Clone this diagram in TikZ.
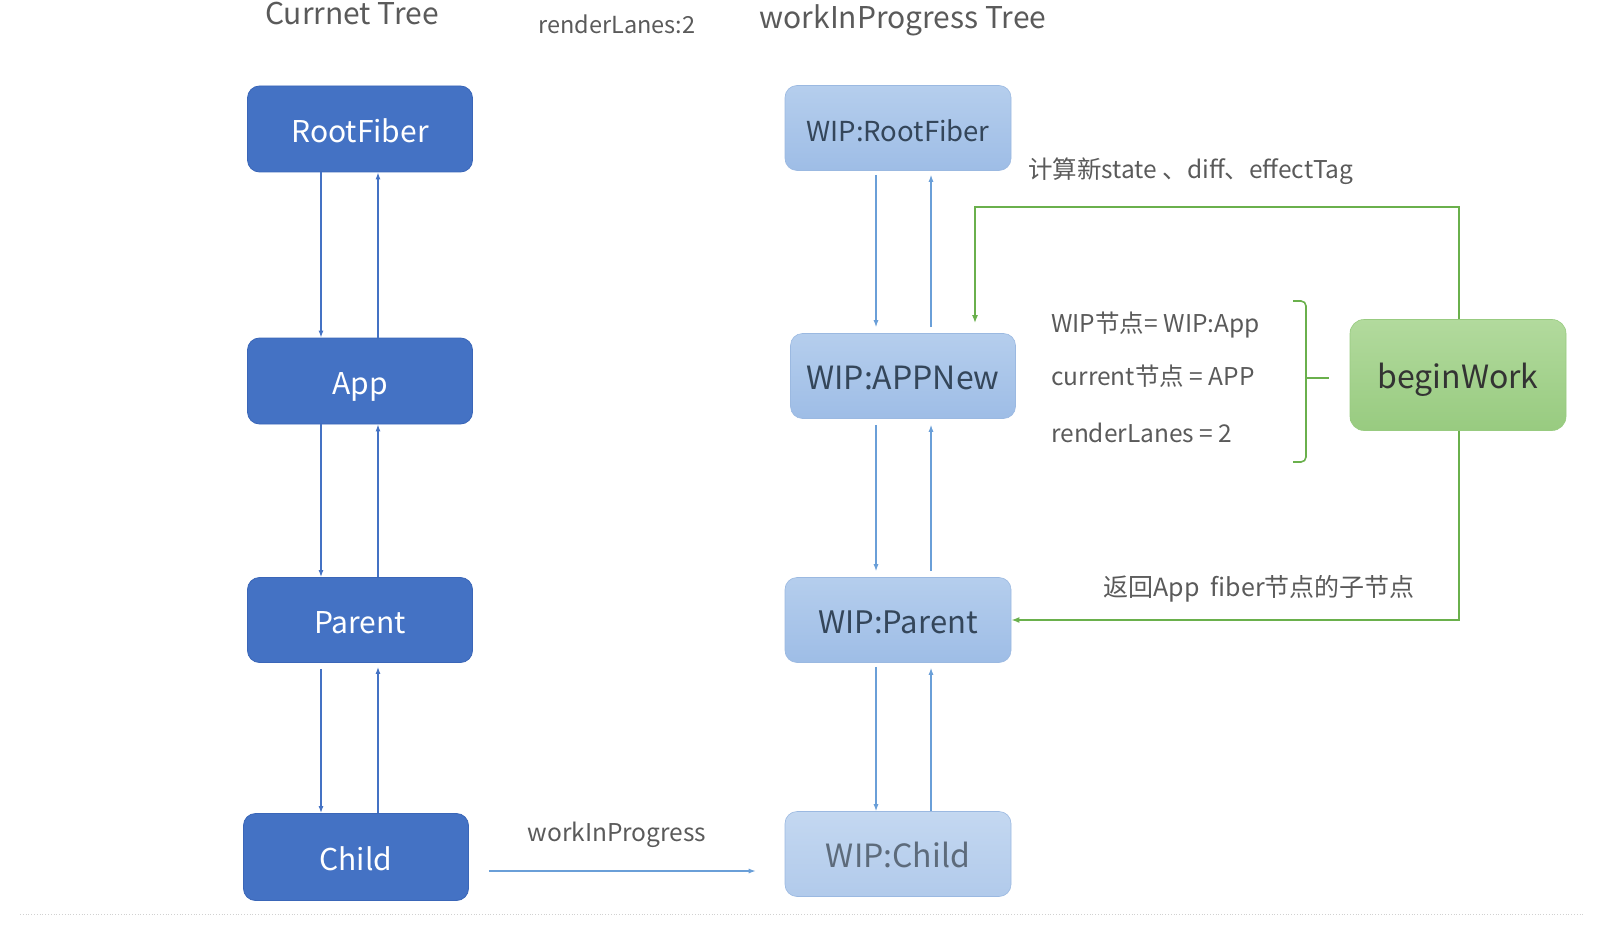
\documentclass[tikz,border=0pt]{standalone}
\usepackage{fontspec}
\setmainfont{Noto Sans CJK SC}
\usetikzlibrary{arrows.meta,calc}
\definecolor{darkb}{HTML}{4472C4}
\definecolor{darkbb}{HTML}{3A66B8}
\definecolor{lightt}{HTML}{B5CEED}
\definecolor{lightb}{HTML}{9EBDE6}
\definecolor{lineb}{HTML}{6A9FD8}
\definecolor{greent}{HTML}{B2DA9D}
\definecolor{greenb}{HTML}{98CB80}
\definecolor{greenl}{HTML}{6AB04C}
\definecolor{txtg}{HTML}{5A5A5A}
\definecolor{wiptxt}{HTML}{34465A}
\begin{document}
\begin{tikzpicture}[x=1pt,y=-1pt,
  boxtext/.style={text height=27pt,text depth=0pt},
  darkbox/.style={boxtext,draw=darkbb,line width=0.8pt,fill=darkb,rounded corners=12pt,inner sep=0pt,text=white,font=\fontsize{30}{34}\selectfont},
  wipbox/.style={boxtext,draw=lightb!90!black!20!lightb,line width=0.6pt,top color=lightt,bottom color=lightb,rounded corners=12pt,inner sep=0pt,text=wiptxt,font=\fontsize{30}{34}\selectfont},
  greenbox/.style={boxtext,draw=greenb,line width=0.6pt,top color=greent,bottom color=greenb,rounded corners=14pt,inner sep=0pt,text=black!80,font=\fontsize{32}{36}\selectfont},
  larr/.style={draw=darkb,line width=1.2pt,-{Latex[length=7pt,width=5pt]}},
  rarr/.style={draw=lineb,line width=1.2pt,-{Latex[length=7pt,width=5pt]}},
  garr/.style={draw=greenl,line width=1.6pt,-{Latex[length=8pt,width=6pt]}},
  lbl/.style={text=txtg,inner sep=0pt,font=\fontsize{24.5}{28}\selectfont},
  ttl/.style={text=txtg,inner sep=0pt,font=\fontsize{30}{34}\selectfont}]
\useasboundingbox (0,0) rectangle (1612,928);
% titles
\node[ttl] (t1) at (352,14) {Currnet Tree};
\node[lbl,font=\fontsize{23.5}{28}\selectfont] (t2) at (617,24) {renderLanes:2};
\node[ttl] (t3) at (903,20) {workInProgress Tree};
% current tree
\node[darkbox,minimum width=225pt,minimum height=86pt] (rf) at (360,129) {RootFiber};
\node[darkbox,minimum width=225pt,minimum height=86pt] (app) at (360,381) {App};
\node[darkbox,minimum width=225pt,minimum height=85pt] (par) at (360,620) {Parent};
\node[darkbox,minimum width=225pt,minimum height=87pt] (chi) at (356,857) {Child};
% wip tree
\node[wipbox,minimum width=226pt,minimum height=85pt,font=\fontsize{27.5}{32}\selectfont] (wrf) at (898,128) {WIP:RootFiber};
\node[wipbox,minimum width=225pt,minimum height=85pt,font=\fontsize{32}{36}\selectfont] (wapp) at (903,376) {WIP:APPNew};
\node[wipbox,minimum width=226pt,minimum height=85pt,font=\fontsize{31}{36}\selectfont] (wpar) at (898,620) {WIP:Parent};
\node[wipbox,minimum width=226pt,minimum height=85pt,font=\fontsize{32}{36}\selectfont,top color=lightt!80!white,bottom color=lightb!80!white,text=wiptxt!80!white] (wchi) at (898,854) {WIP:Child};
\node[greenbox,minimum width=216pt,minimum height=111pt] (bw) at (1458,375) {beginWork};
% x positions
\coordinate (xl1) at (321,0);
\coordinate (xl2) at (378,0);
\coordinate (xr1) at (876,0);
\coordinate (xr2) at (931,0);
% left arrows
\draw[larr] (rf.south -| xl1) -- (app.north -| xl1);
\draw[larr] (app.north -| xl2) -- (rf.south -| xl2);
\draw[larr] (app.south -| xl1) -- (par.north -| xl1);
\draw[larr] (par.north -| xl2) -- (app.south -| xl2);
\draw[larr,shorten <=6pt] (par.south -| xl1) -- (chi.north -| xl1);
\draw[larr,shorten >=4pt] (chi.north -| xl2) -- (par.south -| xl2);
% right arrows
\draw[rarr,shorten <=4pt,shorten >=6pt] (wrf.south -| xr1) -- (wapp.north -| xr1);
\draw[rarr,shorten <=6pt,shorten >=4pt] (wapp.north -| xr2) -- (wrf.south -| xr2);
\draw[rarr,shorten <=6pt,shorten >=6pt] (wapp.south -| xr1) -- (wpar.north -| xr1);
\draw[rarr,shorten <=6pt,shorten >=6pt] (wpar.north -| xr2) -- (wapp.south -| xr2);
\draw[rarr,shorten <=4pt] (wpar.south -| xr1) -- (wchi.north -| xr1);
\draw[rarr,shorten >=5pt] (wchi.north -| xr2) -- (wpar.south -| xr2);
% workInProgress arrow
\coordinate (wa) at ($(chi.east)+(20,14)$);
\coordinate (wb) at ($(wchi.west)+(-29,0)$);
\draw[rarr] (wa) -- (wa -| wb);
\node[lbl] (wl) at (617,835) {workInProgress};
% green connectors
\coordinate (g1) at (1459,207);
\coordinate (g2) at (975,207);
\draw[garr,shorten >=10pt] (bw.north -| g1) -- (g1) -- (g2) -- (g2 |- wapp.north);
\coordinate (g3) at (1459,620);
\draw[garr] (bw.south -| g3) -- (g3) -- (wpar.east);
% labels
\node[lbl,anchor=west] (calc) at (1028,171) {计算新state 、diff、effectTag};
\node[lbl,anchor=west] (l1) at (1051,325) {WIP节点= WIP:App};
\node[lbl,anchor=west] (l2) at (1051,376) {current节点 = APP};
\node[lbl,anchor=west] (l3) at (1051,433) {renderLanes = 2};
\node[lbl,font=\fontsize{25}{29}\selectfont] (ret) at (1259,589) {返回App\ \ fiber节点的子节点};
% brace
\coordinate (b1) at (1293,301);
\coordinate (b2) at (1306,462);
\draw[greenl,line width=1.6pt,rounded corners=5pt] (b1) -- (b1 -| b2) -- (b2) -- (b2 -| b1);
\coordinate (bm) at (1306,378);
\draw[greenl,line width=1.6pt] (bm) -- ++(23,0);
% faint dotted baseline
\draw[black!18,dotted,line width=0.8pt] (20,914) -- (1583,914);
\end{tikzpicture}
\end{document}
